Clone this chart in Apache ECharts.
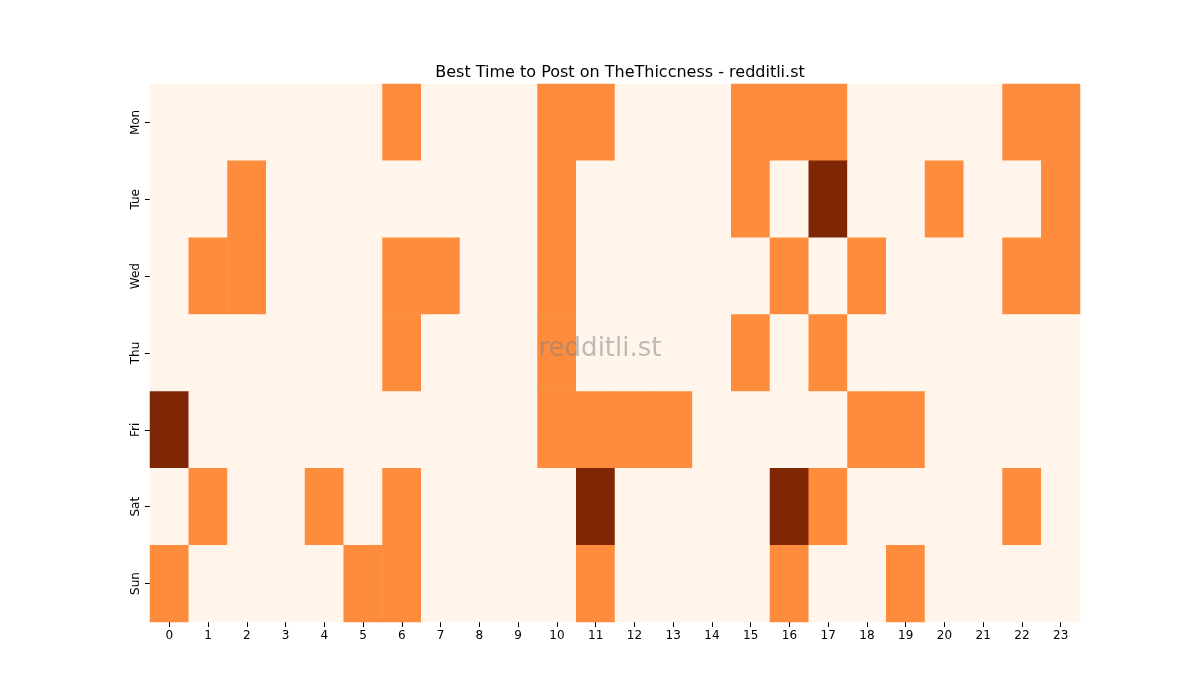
<!DOCTYPE html>
<html><head><meta charset="utf-8">
<script src="https://cdn.jsdelivr.net/npm/echarts@6/dist/echarts.min.js"></script>
<style>html,body{margin:0;background:#fff}#c{width:1200px;height:700px}</style>
</head><body><div id="c"></div>
<script>
const hours = ['0','1','2','3','4','5','6','7','8','9','10','11','12','13','14','15','16','17','18','19','20','21','22','23'];
const days = ['Mon','Tue','Wed','Thu','Fri','Sat','Sun'];
const mon = [0,0,0,0,0,0,1,0,0,0,1,1,0,0,0,1,1,1,0,0,0,0,1,1];
const tue = [0,0,1,0,0,0,0,0,0,0,1,0,0,0,0,1,0,2,0,0,1,0,0,1];
const wed = [0,1,1,0,0,0,1,1,0,0,1,0,0,0,0,0,1,0,1,0,0,0,1,1];
const thu = [0,0,0,0,0,0,1,0,0,0,1,0,0,0,0,1,0,1,0,0,0,0,0,0];
const fri = [2,0,0,0,0,0,0,0,0,0,1,1,1,1,0,0,0,0,1,1,0,0,0,0];
const sat = [0,1,0,0,1,0,1,0,0,0,0,2,0,0,0,0,2,1,0,0,0,0,1,0];
const sun = [1,0,0,0,0,1,1,0,0,0,0,1,0,0,0,0,1,0,0,1,0,0,0,0];
const rows = [mon,tue,wed,thu,fri,sat,sun];
const data = [];
rows.forEach((r,y)=>r.forEach((v,x)=>data.push([x,y,v])));
const chart = echarts.init(document.getElementById('c'));
const font = 'DejaVu Sans';
chart.setOption({
  animation:false,
  title:{text:'Best Time to Post on TheThiccness - redditli.st',left:615,top:60,textAlign:'center',
    textStyle:{fontFamily:font,fontSize:16,fontWeight:'normal',color:'#000'}},
  grid:{left:150,right:120,top:84,bottom:78},
  xAxis:{type:'category',data:hours,axisLine:{show:false},axisTick:{show:true,length:5,lineStyle:{color:'#000'},alignWithLabel:true},
    axisLabel:{fontFamily:font,fontSize:12,color:'#000',margin:8},splitLine:{show:false}},
  yAxis:{type:'category',data:days,inverse:true,axisLine:{show:false},axisTick:{show:true,length:5,lineStyle:{color:'#000'},alignWithLabel:true},
    axisLabel:{fontFamily:font,fontSize:12,color:'#000',rotate:90,margin:8},splitLine:{show:false}},
  visualMap:{show:false,type:'piecewise',dimension:2,pieces:[
    {value:0,color:'#fff5eb'},{value:1,color:'#fd8d3c'},{value:2,color:'#7f2704'}]},
  graphic:[{type:'text',left:'center',top:336,z:100,style:{text:'redditli.st',fontFamily:font,fontSize:26,fill:'rgba(128,128,128,0.5)'},x:0}],
  series:[{type:'heatmap',data:data,itemStyle:{borderWidth:0}}]
});
</script></body></html>
